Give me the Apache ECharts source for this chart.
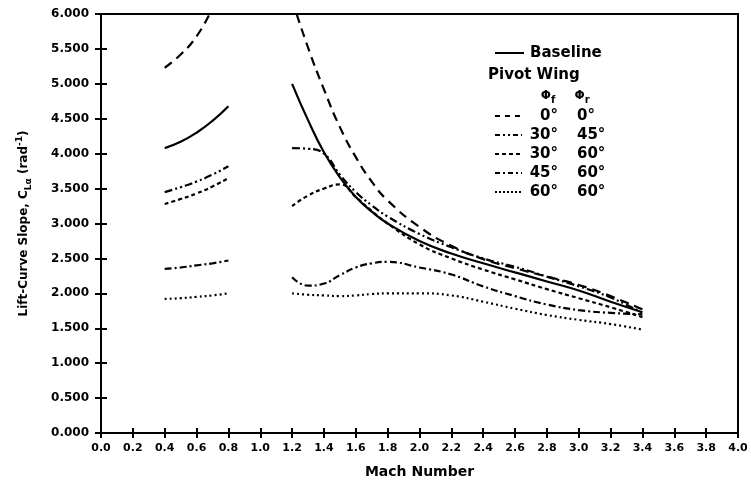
<!DOCTYPE html>
<html>
  <head>
    <meta charset="UTF-8" />
    <title>Lift-Curve Slope vs Mach Number</title>
    <style>
      html, body { margin: 0; padding: 0; background: #fff; }
      #chart { width: 751px; height: 492px; }
    </style>
    <script src="https://cdn.jsdelivr.net/npm/echarts@6/dist/echarts.min.js"></script>
  </head>
  <body>
    <div id="chart"></div>
    <script>
      // Mach numbers for the two branches (subsonic / supersonic)
      const subMach = [0.4, 0.5, 0.6, 0.7, 0.8];
      const supMach = [1.2, 1.3, 1.4, 1.5, 1.6, 1.7, 1.8, 2.0, 2.2, 2.4, 2.6, 2.8, 3.0, 3.2, 3.4];

      // lift-curve slope values, rad^-1
      const baselineSub = [4.08, 4.17, 4.30, 4.47, 4.68];
      const baselineSup = [5.00, 4.48, 4.02, 3.66, 3.38, 3.17, 3.00, 2.75, 2.57, 2.43, 2.30, 2.17, 2.04, 1.88, 1.73];

      const pw00Sub = [5.23, 5.42, 5.68, 6.08];
      const pw00Sup = [6.20, 5.52, 4.92, 4.38, 3.95, 3.60, 3.33, 2.95, 2.68, 2.49, 2.36, 2.24, 2.12, 1.96, 1.77];

      const pw3045Sub = [3.45, 3.52, 3.60, 3.70, 3.82];
      const pw3045Sup = [4.08, 4.07, 4.00, 3.70, 3.45, 3.26, 3.10, 2.85, 2.66, 2.50, 2.38, 2.24, 2.10, 1.94, 1.72];

      const pw3060Sub = [3.28, 3.35, 3.43, 3.53, 3.65];
      const pw3060Sup = [3.25, 3.40, 3.50, 3.56, 3.38, 3.18, 3.00, 2.70, 2.50, 2.34, 2.20, 2.06, 1.93, 1.80, 1.66];

      const pw4560Sub = [2.35, 2.37, 2.40, 2.43, 2.47];
      const pw4560Sup = [2.23, 2.11, 2.14, 2.26, 2.37, 2.43, 2.45, 2.37, 2.27, 2.10, 1.96, 1.84, 1.76, 1.72, 1.70];

      const pw6060Sub = [1.92, 1.93, 1.95, 1.97, 2.00];
      const pw6060Sup = [2.00, 1.98, 1.97, 1.96, 1.97, 1.99, 2.00, 2.00, 1.97, 1.88, 1.78, 1.69, 1.62, 1.56, 1.48];

      const FONT = "DejaVu Sans";

      const curves = [
        { name: "Baseline", sub: baselineSub, sup: baselineSup, dash: "solid" },
        { name: "0/0", sub: pw00Sub, sup: pw00Sup, dash: [9, 6] },
        { name: "30/45", sub: pw3045Sub, sup: pw3045Sup, dash: [8, 3, 2, 3, 2, 3] },
        { name: "30/60", sub: pw3060Sub, sup: pw3060Sup, dash: [4, 3] },
        { name: "45/60", sub: pw4560Sub, sup: pw4560Sup, dash: [7, 3, 2, 3] },
        { name: "60/60", sub: pw6060Sub, sup: pw6060Sup, dash: [2, 3] }
      ];

      function pairs(xs, ys) {
        return ys.map((y, i) => [xs[i], y]);
      }

      const series = [];
      curves.forEach(c => {
        [pairs(subMach, c.sub), pairs(supMach, c.sup)].forEach(d => {
          series.push({
            name: c.name,
            type: "line",
            data: d,
            smooth: 0.5,
            symbol: "none",
            clip: true,
            lineStyle: { color: "#000", width: 2.2, type: c.dash }
          });
        });
      });

      // legend drawn by hand: baseline row, header and the pivot wing rows
      const legendRows = [
        { dash: [5, 5], f: "0°", r: "0°" },
        { dash: [5, 3, 2, 3, 2, 3], f: "30°", r: "45°" },
        { dash: [4, 3], f: "30°", r: "60°" },
        { dash: [5, 3, 2, 3], f: "45°", r: "60°" },
        { dash: [2, 2], f: "60°", r: "60°" }
      ];
      const txt = { font: "bold 15px " + FONT, fill: "#000", verticalAlign: "middle" };
      const phiRich = {
        p: { font: "bold 12px " + FONT, fill: "#000" },
        s: { font: "bold 10px " + FONT, fill: "#000", padding: [8, 0, 0, 0] }
      };
      const graphic = [
        { type: "line", shape: { x1: 495, y1: 53, x2: 524, y2: 53 }, style: { stroke: "#000", lineWidth: 2 } },
        { type: "text", x: 530, y: 53, style: Object.assign({ text: "Baseline", align: "left" }, txt) },
        { type: "text", x: 488, y: 75, style: Object.assign({ text: "Pivot Wing", align: "left" }, txt) },
        { type: "text", x: 548, y: 96, style: { text: "{p|Φ}{s|f}", align: "center", verticalAlign: "middle", rich: phiRich } },
        { type: "text", x: 582, y: 96, style: { text: "{p|Φ}{s|r}", align: "center", verticalAlign: "middle", rich: phiRich } }
      ];
      legendRows.forEach((row, i) => {
        const y = 116 + i * 19;
        graphic.push({ type: "line", shape: { x1: 495, y1: y, x2: 522, y2: y }, style: { stroke: "#000", lineWidth: 2, lineDash: row.dash } });
        graphic.push({ type: "text", x: 558, y: y, style: Object.assign({ text: row.f, align: "right" }, txt) });
        graphic.push({ type: "text", x: 577, y: y, style: Object.assign({ text: row.r, align: "left" }, txt) });
      });

      const chart = echarts.init(document.getElementById("chart"));
      chart.setOption({
        animation: false,
        backgroundColor: "#fff",
        grid: {
          left: 101, right: 13, top: 14, bottom: 59,
          show: true, borderColor: "#000", borderWidth: 2
        },
        xAxis: [
          {
            type: "value", min: 0, max: 4, interval: 0.2,
            name: "Mach Number", nameLocation: "middle", nameGap: 32,
            nameTextStyle: { fontFamily: FONT, fontWeight: "bold", fontSize: 14, color: "#000" },
            axisLine: { lineStyle: { color: "#000", width: 2 } },
            axisTick: { length: 5, lineStyle: { color: "#000", width: 2 } },
            axisLabel: {
              fontFamily: FONT, fontWeight: "bold", fontSize: 11, color: "#000", margin: 10,
              formatter: v => v.toFixed(1)
            },
            splitLine: { show: false }
          },
          {
            type: "value", min: 0, max: 4, interval: 0.2, position: "bottom",
            axisLine: { show: false },
            axisTick: { inside: true, length: 5, lineStyle: { color: "#000", width: 2 } },
            axisLabel: { show: false },
            splitLine: { show: false }
          }
        ],
        yAxis: [
          {
            type: "value", min: 0, max: 6, interval: 0.5,
            name: "{t|Lift-Curve Slope, C}{s|Lα}{t| (rad}{u|-1}{t|)}",
            nameLocation: "middle", nameGap: 68,
            nameTextStyle: {
              rich: {
                t: { fontFamily: FONT, fontWeight: "bold", fontSize: 12, color: "#000" },
                s: { fontFamily: FONT, fontWeight: "bold", fontSize: 9, color: "#000", padding: [9, 0, 0, 0] },
                u: { fontFamily: FONT, fontWeight: "bold", fontSize: 9, color: "#000", padding: [0, 0, 8, 0] }
              }
            },
            axisLine: { lineStyle: { color: "#000", width: 2 } },
            axisTick: { length: 6, lineStyle: { color: "#000", width: 2 } },
            axisLabel: {
              fontFamily: FONT, fontWeight: "bold", fontSize: 12, color: "#000", margin: 12,
              formatter: v => v.toFixed(3)
            },
            splitLine: { show: false }
          },
          {
            type: "value", min: 0, max: 6, interval: 0.5, position: "left",
            axisLine: { show: false },
            axisTick: { inside: true, length: 6, lineStyle: { color: "#000", width: 2 } },
            axisLabel: { show: false },
            splitLine: { show: false }
          }
        ],
        series: series,
        graphic: graphic
      });
    </script>
  </body>
</html>
